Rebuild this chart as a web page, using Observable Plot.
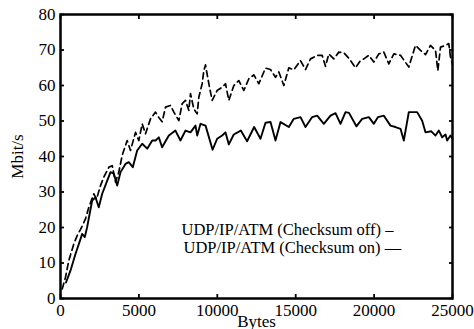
<!DOCTYPE html>
<html><head><meta charset="utf-8">
<script src="https://cdn.jsdelivr.net/npm/d3@7"></script>
<script src="https://cdn.jsdelivr.net/npm/@observablehq/plot@0.6"></script>
<style>body{margin:0;background:#fff} #chart{width:474px;height:329px}</style>
</head><body><div id="chart"></div>
<script>
const bytesOff = [108,320,530,850,1063,1280,1594,1807,2126,2300,2551,2764,3084,3300,3508,3720,3933,4252,4464,4783,4995,5210,5421,5740,6059,6270,6483,6696,7015,7230,7546,7760,7972,8184,8291,8503,8716,8822,9035,9141,9247,9460,9673,9991,10310,10523,10735,11054,11373,11692,12012,12330,12649,13074,13393,13712,13926,14243,14562,14881,15306,15625,15944,16370,16688,16900,17113,17432,17750,18070,18388,18814,19133,19346,19665,19983,20302,20621,20940,21259,21684,22214,22640,22959,23278,23597,23916,24065,24235,24555,24764,24872,25000];
const mbitOff = [2.7,6,10.7,15.4,17.7,19.5,22.4,25.7,29.5,28,31.8,34.2,37,37.4,32.8,35.6,40.3,44.5,41.7,46.8,44.5,49.2,46.4,50.6,52.5,51,49.8,53.9,54.4,52.5,50.1,54.9,55.8,53,57.7,53.4,52,56.7,60.5,64.2,65.8,60.5,55.8,58.6,59.5,60.5,55.8,60,61.4,58.6,61.9,63,60.5,64.9,64.5,62.3,63.8,60,65,64.4,67,64.5,67.5,68.5,68.5,65.4,68.9,67.5,69.4,69.2,67.7,65,67,67.5,68.5,66.6,68.9,69.4,66.1,68.9,68.5,65.2,71.3,69.9,68.7,71.3,69.9,64.2,70.8,71.3,71.8,68,66];
const bytesOn = [350,640,960,1280,1380,1550,1700,2020,2230,2440,2660,2980,3190,3400,3615,3830,4145,4355,4610,4890,5210,5530,5850,6060,6270,6480,6910,7330,7650,7970,8290,8610,8720,8930,9250,9700,9990,10310,10520,10735,11050,11500,11900,12350,12755,13074,13393,13712,14031,14562,14881,15306,15625,16050,16370,16794,17219,17540,17857,18176,18400,18870,19240,19665,19983,20250,20621,21046,21365,21684,21895,22214,22746,23065,23278,23650,23916,24130,24343,24555,24660,24872,25000];
const mbitOn = [4.5,7.9,12.6,16.8,18.2,17.3,20.1,27.6,28.5,25.7,29.5,33.2,35.6,35.2,31.8,35.6,37.9,38.4,37,41.7,43.6,42.2,44.5,44.5,45.4,42.6,45.9,47.3,44.5,47.3,46.8,48.7,45.9,49.2,48.7,41.9,45,45.9,46.8,43.4,46.2,47.3,44.3,48.3,45,49.5,49.7,44.5,49.7,48.3,50.6,51.1,48.3,51.1,51.5,49.2,51.5,52.2,49.2,52.5,52.3,48.5,50.6,51.1,49.2,51.1,51.5,48.7,48.3,47.8,44.5,52.5,52.5,50.1,46.8,47.1,45.9,47.3,45.4,46.2,44.5,45.9,45];
const xTicks = [0,5000,10000,15000,20000,25000];
const yTicks = [0,10,20,30,40,50,60,70,80];
const seriesNames = ["UDP/IP/ATM (Checksum off) \u2013", "UDP/IP/ATM (Checksum on) \u2014"];
const xLabel = "Bytes";
const yLabel = "Mbit/s";

const off = bytesOff.map((b, i) => ({bytes: b, mbit: mbitOff[i]}));
const on = bytesOn.map((b, i) => ({bytes: b, mbit: mbitOn[i]}));
const font = "'Liberation Serif', 'Times New Roman', serif";

const plot = Plot.plot({
  width: 474, height: 329,
  marginLeft: 60, marginTop: 14, marginRight: 22, marginBottom: 31,
  style: {fontFamily: font, fontSize: "17px", background: "#fff", color: "#000"},
  x: {domain: [0, 25000], label: null},
  y: {domain: [0, 80], label: null},
  marks: [
    Plot.line(off, {x: "bytes", y: "mbit", stroke: "#000", strokeWidth: 1.7, strokeDasharray: "6,4"}),
    Plot.line(on, {x: "bytes", y: "mbit", stroke: "#000", strokeWidth: 1.9}),
    Plot.axisX(xTicks, {anchor: "bottom", tickSize: 4, dy: -4, text: null, label: null, strokeWidth: 1.8}),
    Plot.axisX(xTicks, {anchor: "top", tickSize: 4, dy: 4, text: null, label: null, strokeWidth: 1.8}),
    Plot.axisY(yTicks, {anchor: "left", tickSize: 4, dx: 4, text: null, label: null, strokeWidth: 1.8}),
    Plot.axisY(yTicks, {anchor: "right", tickSize: 4, dx: -4, text: null, label: null, strokeWidth: 1.8}),
    Plot.axisX(xTicks, {anchor: "bottom", tickSize: 0, tickPadding: 5, tickFormat: d => String(d), label: xLabel, labelAnchor: "center", labelArrow: "none"}),
    Plot.axisY(yTicks, {anchor: "left", tickSize: 0, tickPadding: 5, tickFormat: d => String(d), label: yLabel, labelAnchor: "center", labelArrow: "none", labelOffset: 50}),
    Plot.frame({stroke: "#000", strokeWidth: 2.5}),
    Plot.text([seriesNames[0]], {text: d => d, frameAnchor: "bottom-left", dx: 121, dy: -64, textAnchor: "start", fontSize: 16.5}),
    Plot.text([seriesNames[1]], {text: d => d, frameAnchor: "bottom-left", dx: 123, dy: -46, textAnchor: "start", fontSize: 16.5})
  ]
});
document.getElementById("chart").appendChild(plot);
</script>
</body></html>
